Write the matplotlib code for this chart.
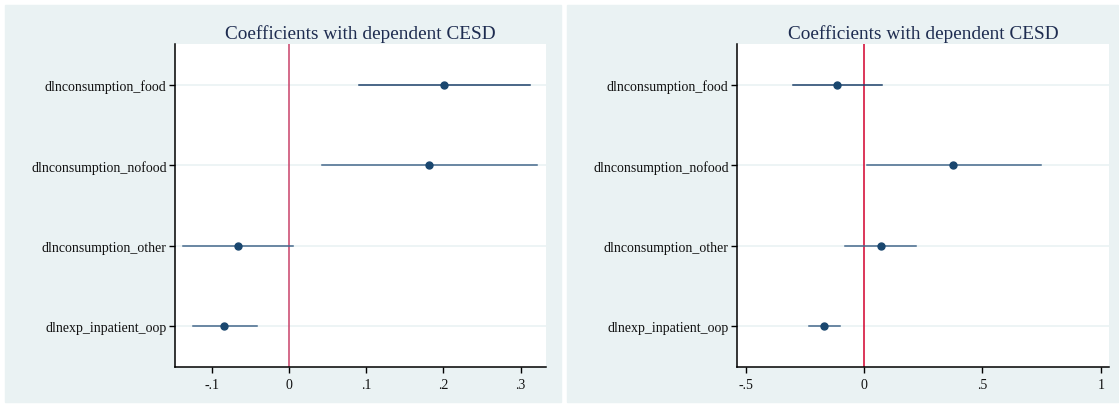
import matplotlib
matplotlib.use("Agg")
import matplotlib.pyplot as plt
from matplotlib.patches import Rectangle

plt.rcParams['font.family'] = ['Liberation Serif', 'DejaVu Serif']

# data
labels = ["dlnconsumption_food", "dlnconsumption_nofood",
          "dlnconsumption_other", "dlnexp_inpatient_oop"]

coef_left = [0.201, 0.181, -0.066, -0.084]
lo_left = [0.090, 0.042, -0.137, -0.125]
hi_left = [0.312, 0.321, 0.005, -0.042]

coef_right = [-0.113, 0.375, 0.070, -0.170]
lo_right = [-0.300, 0.011, -0.080, -0.232]
hi_right = [0.077, 0.745, 0.220, -0.100]

title = "Coefficients with dependent CESD"
bg = "#eaf2f3"
navy = "#1a476f"

fig = plt.figure(figsize=(11.19, 4.06), dpi=100)
fig.patch.set_facecolor("white")
W, H = 1119, 406
fig.patches.append(Rectangle((5 / W, 3 / H), 556 / W, 397 / H,
                             transform=fig.transFigure, color=bg, zorder=-10))
fig.patches.append(Rectangle((567 / W, 3 / H), 551 / W, 397 / H,
                             transform=fig.transFigure, color=bg, zorder=-10))


def panel(rect, coef, lo, hi, xlim, ticks, ticklabels, refcolor):
    ax = fig.add_axes(rect)
    ax.set_facecolor("white")
    y = list(range(1, len(labels) + 1))
    for yi in y:
        ax.axhline(yi, color=bg, lw=1.2, zorder=1)
    ax.axvline(0, color=refcolor, lw=1.1, zorder=2)
    for i, yi in enumerate(y):
        c = "#1d416a" if i == 0 else "#45698c"
        ax.plot([lo[i], hi[i]], [yi, yi], color=c, lw=1.1, zorder=3)
    ax.plot(coef, y, "o", color=navy, ms=5, zorder=4)
    ax.set_xlim(*xlim)
    ax.set_ylim(4.51, 0.49)
    ax.set_yticks(y)
    ax.set_yticklabels(labels, fontsize=10, color="#111111")
    ax.set_xticks(ticks)
    ax.set_xticklabels(ticklabels, fontsize=10, color="#111111")
    ax.tick_params(axis="both", direction="out", length=4, width=1, color="black")
    ax.tick_params(axis="y", pad=2)
    ax.tick_params(axis="x", pad=4)
    for s in ["top", "right"]:
        ax.spines[s].set_visible(False)
    for s in ["left", "bottom"]:
        ax.spines[s].set_linewidth(1.1)
        ax.spines[s].set_color("black")
    ax.set_title(title, fontsize=13.9, color="#1e2c50", pad=4)
    return ax


panel([175 / W, 38 / H, 371 / W, 323 / H], coef_left, lo_left, hi_left,
      (-0.148, 0.333), [-0.1, 0, 0.1, 0.2, 0.3], ["-.1", "0", ".1", ".2", ".3"],
      "#c9416a")
panel([737 / W, 38 / H, 372 / W, 323 / H], coef_right, lo_right, hi_right,
      (-0.536, 1.034), [-0.5, 0, 0.5, 1], ["-.5", "0", ".5", "1"],
      "#d2002c")

fig.savefig("out.png", dpi=100, facecolor=fig.get_facecolor())
